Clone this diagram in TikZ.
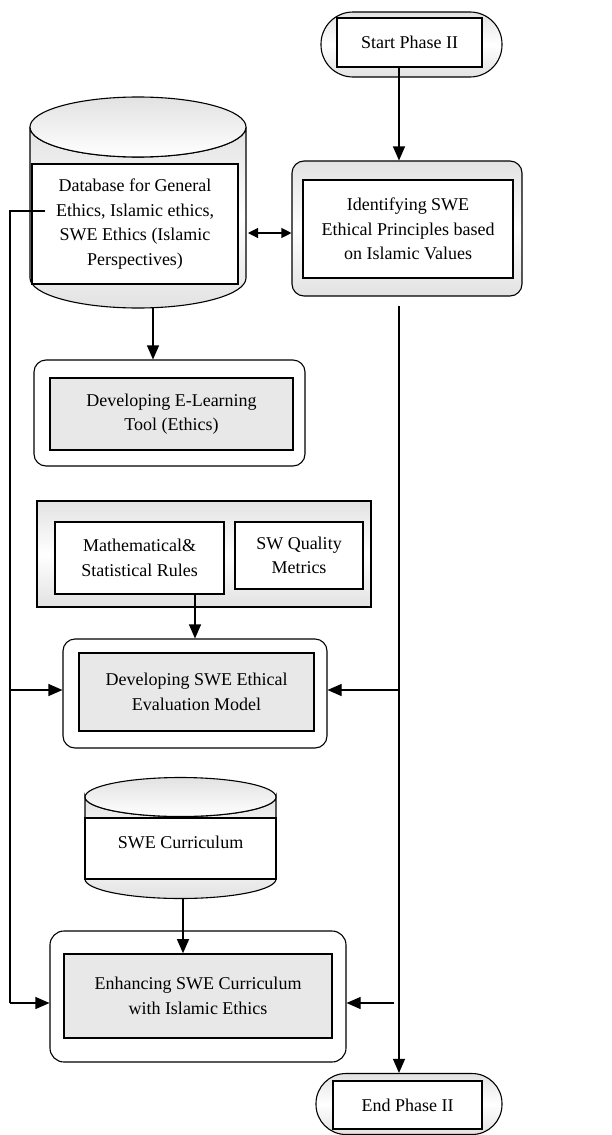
\documentclass[tikz,border=0pt]{standalone}
\usepackage{fontspec}
\setmainfont{Liberation Serif}
\usetikzlibrary{arrows.meta}
\definecolor{boxgray}{HTML}{E8E8E8}
\definecolor{edgegray}{HTML}{E2E2E2}
\tikzset{
  every node/.style={font=\fontsize{18}{24.5}\selectfont, align=center, inner sep=0pt},
  outerbox/.style={draw=black, line width=1.1pt, rounded corners=12pt},
  shadedbox/.style={top color=edgegray, bottom color=edgegray, middle color=white},
  innerwhite/.style={draw=black, line width=1.6pt, fill=white},
  innergray/.style={draw=black, line width=1.6pt, fill=boxgray},
  conn/.style={line width=1.1pt, -{Triangle[length=14pt,width=12pt]}},
  plainline/.style={line width=1.1pt},
}
\begin{document}
\begin{tikzpicture}[x=1pt,y=-1pt]
\useasboundingbox (0,0) rectangle (612,1135);

% Start
\node[outerbox, shadedbox, rounded corners=32pt, minimum width=181pt, minimum height=65pt] (startout) at (411.5,44.5) {};
\node[innerwhite, minimum width=145pt, minimum height=49pt] (start) at (409.5,42.5) {Start Phase II};

% Identifying
\node[outerbox, shadedbox, minimum width=230pt, minimum height=135pt] (idout) at (407,228.5) {};
\node[innerwhite, minimum width=210pt, minimum height=98pt] (id) at (408,229) {Identifying SWE\\Ethical Principles based\\on Islamic Values};

% Database cylinder
\draw[line width=1.1pt, shadedbox] (30,127) -- (30,278) arc[start angle=180, end angle=0, x radius=108, y radius=30] -- (246,127) arc[start angle=0, end angle=180, x radius=108, y radius=30] -- cycle;
\draw[line width=1.1pt, top color=edgegray, bottom color=white] (138,127) ellipse[x radius=108, y radius=30];
\node[innerwhite, minimum width=206pt, minimum height=120pt] (db) at (135,224) {Database for General\\Ethics, Islamic ethics,\\SWE Ethics (Islamic\\Perspectives)};
\coordinate (dbbot) at (153,308);
\coordinate (dbeast) at (248,233);
\coordinate (dbleft) at (45,211);

% E-learning
\node[outerbox, fill=white, minimum width=271pt, minimum height=106pt] (elout) at (169.5,413) {};
\node[innergray, minimum width=243pt, minimum height=72pt] (el) at (171.5,414) {Developing E-Learning\\Tool (Ethics)};

% Group
\node[draw=black, line width=1.3pt, shadedbox, minimum width=334pt, minimum height=106pt] (grp) at (204,554) {};
\node[innerwhite, minimum width=169pt, minimum height=72pt] (math) at (139.5,558) {Mathematical\&\\Statistical Rules};
\node[innerwhite, minimum width=128pt, minimum height=67pt] (swq) at (299,555.5) {SW Quality\\Metrics};

% Evaluation
\node[outerbox, fill=white, minimum width=264pt, minimum height=109pt] (evout) at (195,693.5) {};
\node[innergray, minimum width=235pt, minimum height=78pt] (ev) at (196.5,692) {Developing SWE Ethical\\Evaluation Model};

% SWE curriculum cylinder
\draw[line width=1.1pt, shadedbox] (85,797) -- (85,879) arc[start angle=180, end angle=0, x radius=95.5, y radius=19.5] -- (276,797) arc[start angle=0, end angle=180, x radius=95.5, y radius=19.5] -- cycle;
\draw[line width=1.1pt, top color=edgegray, bottom color=white] (180.5,797) ellipse[x radius=95.5, y radius=19.5];
\node[draw=black, line width=1.3pt, fill=white, minimum width=191pt, minimum height=61pt] (cur) at (180.5,848.5) {};
\node (curtext) at (180.5,842) {SWE Curriculum};
\coordinate (curbot) at (183,898);

% Enhancing
\node[outerbox, fill=white, rounded corners=14pt, minimum width=296pt, minimum height=131pt] (enout) at (198,996.5) {};
\node[innergray, minimum width=268pt, minimum height=84pt] (en) at (198,996) {Enhancing SWE Curriculum\\with Islamic Ethics};

% End
\node[outerbox, shadedbox, rounded corners=30pt, minimum width=186pt, minimum height=61pt] (endout) at (409,1104) {};
\node[innerwhite, minimum width=149pt, minimum height=48pt] (endn) at (407.5,1105) {End Phase II};

% Connectors
\draw[conn] (start.south -| 399,0) -- (idout.north -| 399,0);
\draw[line width=1.1pt, {Triangle[length=10pt,width=10pt]}-{Triangle[length=10pt,width=10pt]}] (dbeast) -- (dbeast -| idout.west);
\draw[conn] (dbbot) -- (dbbot |- elout.north);
\draw[conn] (evout.north |- math.south) -- (evout.north);
\draw[conn] (curbot) -- (curbot |- en.north);

% Left feedback line
\coordinate (lc) at (10,211);
\coordinate (lb) at (10,1003);
\draw[plainline] (dbleft) -- (lc) -- (lb);
\draw[conn] (lb) -- (lb -| enout.west);
\draw[conn] (10,690) -- (evout.west |- 10,690);

% Right line
\coordinate (rt) at (399,306);
\draw[conn] (rt) -- (rt |- endout.north);
\draw[conn] (399,690) -- (evout.east |- 399,690);
\draw[conn] (394,1003) -- (enout.east |- 394,1003);
\end{tikzpicture}
\end{document}
